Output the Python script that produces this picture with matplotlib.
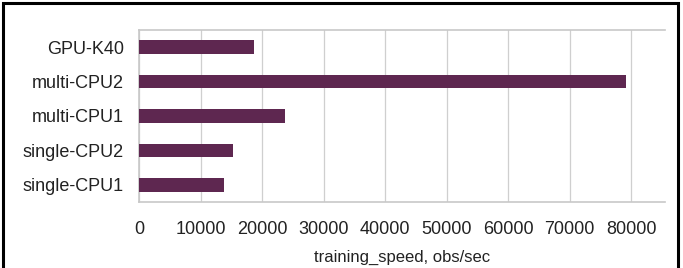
import matplotlib.pyplot as plt
from matplotlib.patches import Rectangle

# values
systems = ['single-CPU1', 'single-CPU2', 'multi-CPU1', 'multi-CPU2', 'GPU-K40']
speed = [13850, 15200, 23750, 79200, 18700]
xticks = [0, 10000, 20000, 30000, 40000, 50000, 60000, 70000, 80000]

plt.rcParams['font.family'] = ['Liberation Sans Narrow', 'Liberation Sans', 'DejaVu Sans']

fig = plt.figure(figsize=(6.83, 2.68), dpi=100)
ax = fig.add_axes([139/683, 66/268, 526/683, 172/268])

ax.barh(range(len(systems)), speed, height=0.4, color='#5E2750', zorder=3)
ax.set_yticks(range(len(systems)))
ax.set_yticklabels(systems, fontsize=13, color='#222222')
ax.set_ylim(-0.5, len(systems) - 0.5)

ax.set_xlim(0, 85500)
ax.set_xticks(xticks)
ax.set_xticklabels([str(v) for v in xticks], fontsize=13, color='#222222')
ax.xaxis.grid(True, color='#cfcfcf', linewidth=0.9, zorder=0)
ax.tick_params(axis='x', length=0, pad=14)
ax.tick_params(axis='y', length=0, pad=11)
ax.set_xlabel('training_speed, obs/sec', fontsize=12, color='#222222', labelpad=8)

for side in ['top', 'left', 'bottom']:
    ax.spines[side].set_color('#c8c8c8')
    ax.spines[side].set_linewidth(1.2)
ax.spines['right'].set_visible(False)

# black frame around the figure (bottom edge cut off)
fig.patches.append(Rectangle((3/683, -0.1), 675/683, 1.0 - 3/268 + 0.1,
                             transform=fig.transFigure, fill=False,
                             edgecolor='black', linewidth=2.2))

fig.savefig('out.png', dpi=100)
